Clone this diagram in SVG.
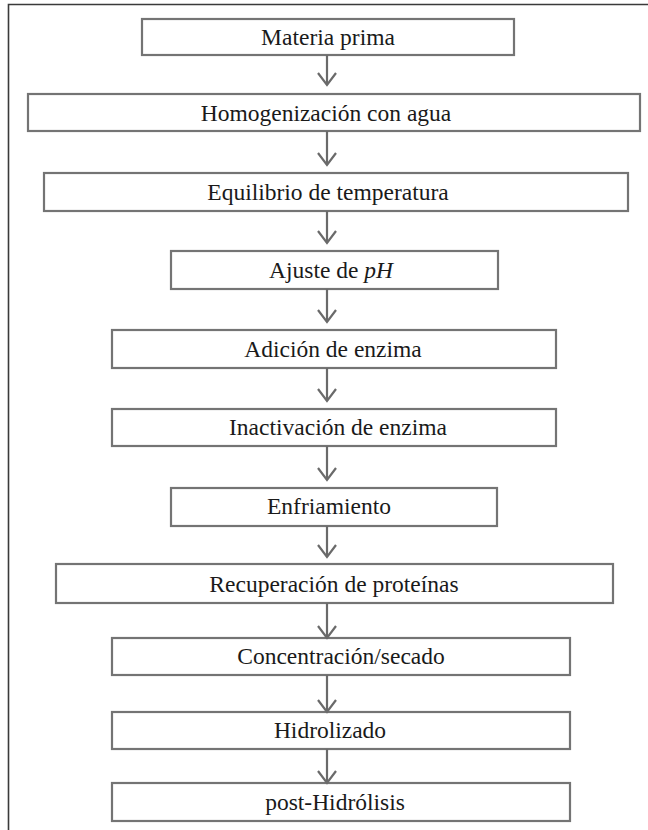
<svg xmlns="http://www.w3.org/2000/svg" width="648" height="830" viewBox="0 0 648 830">
  <style>
    .box rect { fill: #ffffff; stroke: #747474; stroke-width: 2.2; }
    .box text { font-family: "Liberation Serif", "Times New Roman", serif; font-size: 23.5px; fill: #1a1a1a; text-anchor: middle; }
    .frame { fill: none; stroke: #3a3a3a; stroke-width: 1.6; }
    .conn line { stroke: #6a6a6a; stroke-width: 2.2; }
    .conn path { fill: none; stroke: #6a6a6a; stroke-width: 2.2; stroke-linejoin: miter; }
  </style>

  <rect width="648" height="830" fill="#ffffff"/>
  <!-- outer frame (top and left edges) -->
  <path class="frame" d="M8.5,830 V4.5 H648"/>

  <g id="n1" class="box"><rect x="142" y="19" width="372" height="36"/><text x="328" y="45">Materia prima</text></g>
  <g id="n2" class="box"><rect x="28" y="94" width="612" height="37"/><text x="326" y="121">Homogenización con agua</text></g>
  <g id="n3" class="box"><rect x="44" y="173" width="584" height="38"/><text x="328" y="200">Equilibrio de temperatura</text></g>
  <g id="n4" class="box"><rect x="171" y="251" width="327" height="38"/><text x="331" y="278">Ajuste de <tspan font-style="italic">pH</tspan></text></g>
  <g id="n5" class="box"><rect x="112" y="330" width="444" height="38"/><text x="333" y="357">Adición de enzima</text></g>
  <g id="n6" class="box"><rect x="112" y="409" width="444" height="37"/><text x="338" y="435">Inactivación de enzima</text></g>
  <g id="n7" class="box"><rect x="171" y="488" width="326" height="38"/><text x="329" y="514">Enfriamiento</text></g>
  <g id="n8" class="box"><rect x="56" y="564" width="557" height="39"/><text x="334" y="592">Recuperación de proteínas</text></g>
  <g id="n9" class="box"><rect x="112" y="638" width="458" height="37"/><text x="341" y="664">Concentración/secado</text></g>
  <g id="n10" class="box"><rect x="112" y="712" width="458" height="37"/><text x="330" y="738">Hidrolizado</text></g>
  <g id="n11" class="box"><rect x="112" y="783" width="458" height="38"/><text x="335" y="810">post-Hidrólisis</text></g>

  <g id="connectors" class="conn">
    <line x1="327" y1="55" x2="327" y2="85"/><path d="M318,73 L327,85 L336,73"/>
    <line x1="327" y1="131" x2="327" y2="165"/><path d="M318,153 L327,165 L336,153"/>
    <line x1="327" y1="211" x2="327" y2="243"/><path d="M318,231 L327,243 L336,231"/>
    <line x1="327" y1="289" x2="327" y2="322"/><path d="M318,310 L327,322 L336,310"/>
    <line x1="327" y1="368" x2="327" y2="401"/><path d="M318,389 L327,401 L336,389"/>
    <line x1="327" y1="446" x2="327" y2="480"/><path d="M318,468 L327,480 L336,468"/>
    <line x1="327" y1="526" x2="327" y2="557"/><path d="M318,545 L327,557 L336,545"/>
    <line x1="327" y1="603" x2="327" y2="638"/><path d="M318,626 L327,638 L336,626"/>
    <line x1="327" y1="675" x2="327" y2="712"/><path d="M318,700 L327,712 L336,700"/>
    <line x1="327" y1="749" x2="327" y2="783"/><path d="M318,771 L327,783 L336,771"/>
  </g>
</svg>
